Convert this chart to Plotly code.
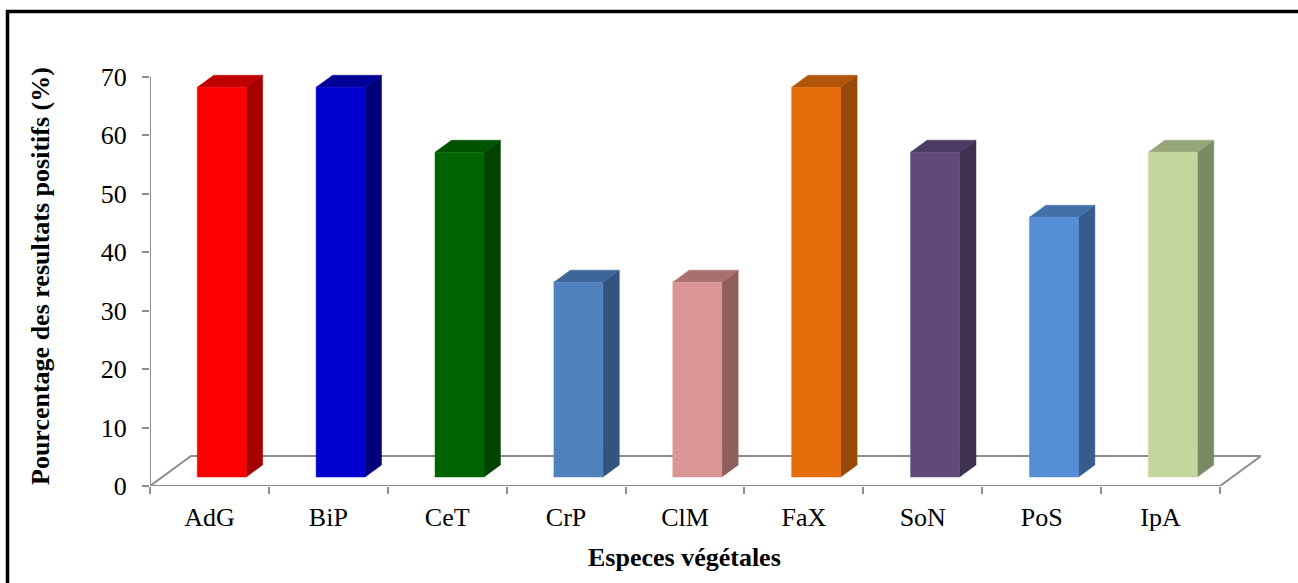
import plotly.graph_objects as go

# Data
categories = ["AdG", "BiP", "CeT", "CrP", "ClM", "FaX", "SoN", "PoS", "IpA"]
values = [66.67, 66.67, 55.56, 33.33, 33.33, 66.67, 55.56, 44.44, 55.56]
y_ticks = [0, 10, 20, 30, 40, 50, 60, 70]

# Face colours per bar: front, side, top
front_colors = ["#FF0000", "#0000CC", "#006400", "#4F81BD", "#D99694",
                "#E46C0A", "#604A7B", "#558ED5", "#C3D69B"]
side_colors = ["#A40000", "#00007A", "#004300", "#345480", "#8E5F5E",
               "#984807", "#3F3150", "#365B8C", "#7B8A62"]
top_colors = ["#C00000", "#000099", "#005200", "#3E6699", "#A87170",
              "#B05509", "#4B3A61", "#4270A8", "#97A677"]

# Pseudo-3D geometry (axis units)
FLOOR_DX = 0.345      # depth offset along x, in categories
FLOOR_DY = 5.14       # depth offset along y, in percent units
BAR_HALF = 0.206      # half width of a bar's front face
D_FRONT = 0.3         # depth fraction of the bar front face
D_BACK = 0.7          # depth fraction of the bar back face

GRID = "#8E8E8E"
SERIF = "Liberation Serif, Times New Roman, serif"

fig = go.Figure()

# Floor of the 3D plot
n = len(categories)
fig.add_trace(go.Scatter(
    x=[-0.5, n - 0.5, n - 0.5 + FLOOR_DX, -0.5 + FLOOR_DX, -0.5],
    y=[0, 0, FLOOR_DY, FLOOR_DY, 0],
    mode="lines", line=dict(color=GRID, width=2),
    hoverinfo="skip", showlegend=False))

# Vertical value axis line
fig.add_trace(go.Scatter(
    x=[-0.5, -0.5], y=[0, y_ticks[-1]],
    mode="lines", line=dict(color=GRID, width=2),
    hoverinfo="skip", showlegend=False))


def poly(xs, ys, color):
    fig.add_trace(go.Scatter(
        x=xs + [xs[0]], y=ys + [ys[0]], mode="lines", fill="toself",
        fillcolor=color, line=dict(color=color, width=0.5),
        hoverinfo="skip", showlegend=False))


for i, (cat, v) in enumerate(zip(categories, values)):
    fx0 = i - BAR_HALF + D_FRONT * FLOOR_DX
    fx1 = i + BAR_HALF + D_FRONT * FLOOR_DX
    fy0 = D_FRONT * FLOOR_DY
    fy1 = v + D_FRONT * FLOOR_DY
    ddx = (D_BACK - D_FRONT) * FLOOR_DX
    ddy = (D_BACK - D_FRONT) * FLOOR_DY
    # side face
    poly([fx1, fx1 + ddx, fx1 + ddx, fx1],
         [fy0, fy0 + ddy, fy1 + ddy, fy1], side_colors[i])
    # top face
    poly([fx0, fx1, fx1 + ddx, fx0 + ddx],
         [fy1, fy1, fy1 + ddy, fy1 + ddy], top_colors[i])
    # front face
    poly([fx0, fx1, fx1, fx0],
         [fy0, fy0, fy1, fy1], front_colors[i])

W, H = 1298, 583
ML, MR, MT, MB = 150, 37, 71, 97

fig.update_layout(
    width=W, height=H,
    margin=dict(l=ML, r=MR, t=MT, b=MB),
    paper_bgcolor="white", plot_bgcolor="white",
    font=dict(family=SERIF, color="black"),
    xaxis=dict(
        range=[-0.5, n - 0.5 + FLOOR_DX],
        tickmode="array", tickvals=list(range(n)), ticktext=categories,
        ticks="", ticklabelstandoff=13,
        tickfont=dict(family=SERIF, size=26, color="black"),
        minor=dict(tickmode="linear", tick0=-0.5, dtick=1, ticks="outside",
                   ticklen=7, tickwidth=2, tickcolor=GRID, showgrid=False),
        showgrid=False, zeroline=False, showline=False, fixedrange=True),
    yaxis=dict(
        range=[0, 71],
        tickmode="array", tickvals=y_ticks,
        ticks="outside", ticklen=7, tickwidth=2, tickcolor=GRID,
        ticklabelstandoff=10,
        tickfont=dict(family=SERIF, size=26, color="black"),
        showgrid=False, zeroline=False, showline=False, fixedrange=True),
    annotations=[
        dict(text="<b>Pourcentage des resultats positifs (%)</b>",
             xref="paper", yref="paper",
             x=(40 - ML) / (W - ML - MR), y=(H - MB - 276) / (H - MT - MB),
             xanchor="center", yanchor="middle", textangle=-90,
             showarrow=False, font=dict(family=SERIF, size=26, color="black")),
        dict(text="<b>Especes végétales</b>",
             xref="x", yref="paper",
             x=(n - 1) / 2, y=(H - MB - 557) / (H - MT - MB),
             xanchor="center", yanchor="middle",
             showarrow=False, font=dict(family=SERIF, size=26, color="black")),
    ],
    shapes=[
        # outer frame, running off the right and bottom edges
        dict(type="rect", xref="paper", yref="paper",
             x0=(7.5 - ML) / (W - ML - MR), x1=(W + 20 - ML) / (W - ML - MR),
             y0=(H - MB - (H + 20)) / (H - MT - MB),
             y1=(H - MB - 11.5) / (H - MT - MB),
             line=dict(color="black", width=3.5), layer="above"),
    ],
)

fig.write_html("out.html")
